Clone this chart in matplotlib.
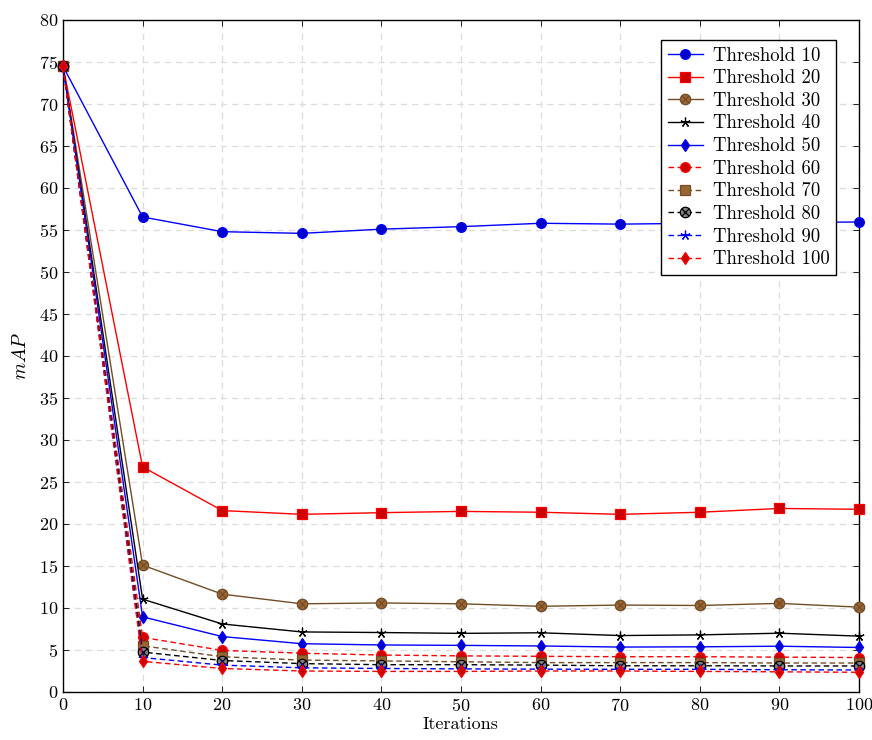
import numpy as np
import matplotlib
matplotlib.use("Agg")
import matplotlib.pyplot as plt
from matplotlib.path import Path

plt.rcParams["font.family"] = "serif"
plt.rcParams["font.serif"] = ["cmr10", "DejaVu Serif"]
plt.rcParams["mathtext.fontset"] = "cm"
plt.rcParams["axes.unicode_minus"] = False
plt.rcParams["axes.formatter.use_mathtext"] = True

iterations = [0, 10, 20, 30, 40, 50, 60, 70, 80, 90, 100]

thr10 = [74.5, 56.55, 54.8, 54.6, 55.1, 55.4, 55.8, 55.7, 55.8, 55.9, 55.95]
thr20 = [74.5, 26.8, 21.6, 21.15, 21.35, 21.5, 21.4, 21.15, 21.4, 21.85, 21.75]
thr30 = [74.5, 15.1, 11.65, 10.5, 10.6, 10.5, 10.2, 10.35, 10.3, 10.55, 10.1]
thr40 = [74.5, 11.05, 8.1, 7.15, 7.08, 6.98, 7.05, 6.72, 6.8, 7.0, 6.65]
thr50 = [74.5, 8.95, 6.6, 5.75, 5.6, 5.55, 5.48, 5.35, 5.38, 5.45, 5.3]
thr60 = [74.5, 6.5, 4.95, 4.62, 4.4, 4.3, 4.25, 4.2, 4.2, 4.15, 4.1]
thr70 = [74.5, 5.5, 4.2, 3.8, 3.7, 3.6, 3.5, 3.5, 3.5, 3.45, 3.45]
thr80 = [74.5, 4.75, 3.75, 3.38, 3.25, 3.25, 3.2, 3.12, 3.12, 3.1, 3.1]
thr90 = [74.5, 4.1, 3.2, 2.88, 2.8, 2.75, 2.72, 2.7, 2.7, 2.65, 2.62]
thr100 = [74.5, 3.65, 2.8, 2.5, 2.45, 2.45, 2.5, 2.5, 2.45, 2.4, 2.35]

labels = ["Threshold 10", "Threshold 20", "Threshold 30", "Threshold 40", "Threshold 50",
          "Threshold 60", "Threshold 70", "Threshold 80", "Threshold 90", "Threshold 100"]
series = [thr10, thr20, thr30, thr40, thr50, thr60, thr70, thr80, thr90, thr100]

# circle with a cross inside (pgfplots otimes*)
t = np.linspace(0, 2 * np.pi, 40)
circ = np.column_stack([np.cos(t), np.sin(t)])
d = np.sqrt(0.5)
verts = list(circ) + [(-d, -d), (d, d), (-d, d), (d, -d)]
codes = [Path.MOVETO] + [Path.LINETO] * (len(circ) - 2) + [Path.CLOSEPOLY] + \
        [Path.MOVETO, Path.LINETO, Path.MOVETO, Path.LINETO]
otimes = Path(verts, codes)

blue = (0, 0, 1)
red = (1, 0, 0)
brown = (0.45, 0.3, 0.15)
black = (0, 0, 0)
fblue = (0, 0, 0.8)
fred = (0.8, 0, 0)
fbrown = (0.6, 0.4, 0.2)

styles = [
    dict(color=blue, marker="o", mfc=fblue, ms=7, ls="-"),
    dict(color=red, marker="s", mfc=fred, ms=7, ls="-"),
    dict(color=brown, marker=otimes, mfc=fbrown, ms=7.5, ls="-"),
    dict(color=black, marker=(5, 2, 0), mfc=black, ms=7, ls="-"),
    dict(color=blue, marker="d", mfc=fblue, ms=6.5, ls="-"),
    dict(color=red, marker="o", mfc=fred, ms=7, ls="--"),
    dict(color=brown, marker="s", mfc=fbrown, ms=7, ls="--"),
    dict(color=black, marker=otimes, mfc="gray", ms=7.5, ls="--"),
    dict(color=blue, marker=(5, 2, 0), mfc=fblue, ms=7, ls="--"),
    dict(color=red, marker="d", mfc=fred, ms=6.5, ls="--"),
]

fig = plt.figure(figsize=(8.72, 7.40), dpi=100)
ax = fig.add_axes([63 / 872, 1 - 692 / 740, 796 / 872, 672 / 740])

for vals, lab, st in zip(series, labels, styles):
    line, = ax.plot(iterations, vals, color=st["color"], marker=st["marker"],
                    markerfacecolor=st["mfc"], markeredgecolor=st["color"],
                    markersize=st["ms"], markeredgewidth=0.9, linewidth=1.0,
                    linestyle=st["ls"], label=lab, clip_on=False, zorder=3)
    if st["ls"] == "--":
        line.set_dashes((4, 2.5))

ax.set_xlim(0, 100)
ax.set_ylim(0, 80)
ax.set_xticks(np.arange(0, 101, 10))
ax.set_yticks(np.arange(0, 81, 5))
ax.grid(True, color="#dcdcdc", linestyle=(0, (5, 4)), linewidth=0.9)
ax.tick_params(direction="in", labelsize=13, length=4, top=True, right=True, width=0.6)
for s in ax.spines.values():
    s.set_linewidth(1.0)

ax.set_xlabel("Iterations", fontsize=13, labelpad=2)
ax.set_ylabel("$mAP$", fontsize=14, labelpad=6)

leg = ax.legend(loc="upper right", bbox_to_anchor=(0.971, 0.970), borderaxespad=0,
                fontsize=13.5, numpoints=1, fancybox=False, framealpha=1,
                edgecolor="black", handlelength=1.9, handletextpad=0.5,
                labelspacing=0.25, borderpad=0.35)
leg.get_frame().set_linewidth(1.0)

fig.savefig("out.png", dpi=100)
